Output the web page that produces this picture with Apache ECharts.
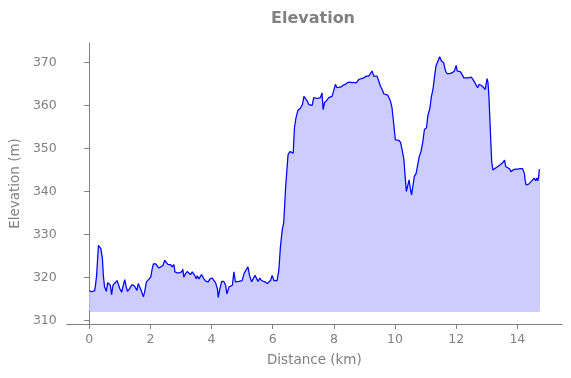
<!DOCTYPE html>
<html>
<head>
<meta charset="utf-8">
<script src="https://cdn.jsdelivr.net/npm/echarts@6/dist/echarts.min.js"></script>
<style>
    html, body { margin: 0; padding: 0; background: #fff; }
    #chart { width: 571px; height: 378px; }
</style>
</head>
<body>
<div id="chart"></div>
<script>
// distance along the route (km) and elevation (m)
var distKm = [
    0.00, 0.09, 0.13, 0.18, 0.21, 0.24, 0.30, 0.34, 0.38, 0.43, 0.46, 0.50, 0.56, 0.60, 0.645, 0.69,
    0.73, 0.775, 0.84, 0.91, 0.95, 1.00, 1.06, 1.10, 1.16, 1.21, 1.25, 1.32, 1.39, 1.46, 1.52, 1.56,
    1.60, 1.66, 1.70, 1.77, 1.81, 1.87, 1.93, 2.01, 2.06, 2.10, 2.17, 2.22, 2.28, 2.34, 2.41, 2.47,
    2.52, 2.58, 2.66, 2.71, 2.77, 2.80, 2.88, 2.95, 3.02, 3.06, 3.09, 3.15, 3.20, 3.26, 3.31, 3.37,
    3.43, 3.50, 3.53, 3.59, 3.67, 3.75, 3.82, 3.89, 3.95, 4.02, 4.08, 4.13, 4.19, 4.22, 4.26, 4.33,
    4.40, 4.46, 4.50, 4.57, 4.62, 4.68, 4.73, 4.78, 4.84, 4.89, 4.95, 5.00, 5.06, 5.11, 5.19, 5.24,
    5.31, 5.36, 5.42, 5.47, 5.52, 5.58, 5.63, 5.69, 5.74, 5.82, 5.87, 5.93, 5.98, 6.04, 6.09, 6.14,
    6.20, 6.25, 6.31, 6.36, 6.42, 6.50, 6.56, 6.61, 6.67, 6.71, 6.76, 6.82, 6.91, 6.97, 7.02, 7.07,
    7.13, 7.18, 7.23, 7.29, 7.34, 7.40, 7.45, 7.50, 7.56, 7.61, 7.65, 7.69, 7.76, 7.83, 7.89, 7.94,
    7.99, 8.05, 8.10, 8.16, 8.23, 8.30, 8.38, 8.45, 8.52, 8.59, 8.65, 8.74, 8.81, 8.89, 8.98, 9.06,
    9.14, 9.20, 9.25, 9.30, 9.36, 9.41, 9.47, 9.52, 9.58, 9.63, 9.68, 9.76, 9.80, 9.85, 9.90, 9.96,
    10.01, 10.07, 10.12, 10.18, 10.23, 10.29, 10.33, 10.37, 10.42, 10.46, 10.50, 10.54, 10.58, 10.63, 10.69, 10.74,
    10.79, 10.85, 10.91, 10.96, 11.03, 11.07, 11.14, 11.19, 11.24, 11.30, 11.34, 11.40, 11.46, 11.52, 11.59, 11.65,
    11.70, 11.79, 11.87, 11.94, 12.00, 12.03, 12.08, 12.14, 12.19, 12.25, 12.33, 12.41, 12.49, 12.55, 12.60, 12.66,
    12.70, 12.75, 12.79, 12.85, 12.90, 12.95, 13.01, 13.04, 13.07, 13.12, 13.16, 13.20, 13.28, 13.36, 13.44, 13.51,
    13.58, 13.62, 13.68, 13.75, 13.79, 13.86, 13.93, 14.01, 14.10, 14.17, 14.23, 14.26, 14.29, 14.37, 14.45, 14.51,
    14.55, 14.60, 14.64, 14.67, 14.70, 14.72
];
var elevM = [
    316.9, 316.7, 316.6, 317.0, 318.6, 320.5, 327.5, 327.7, 326.7, 324.4, 320.5, 317.8, 316.8, 318.8, 319.0, 318.2,
    316.0, 318.2, 318.6, 319.3, 319.6, 317.4, 316.6, 317.8, 319.5, 317.8, 316.8, 317.4, 318.3, 318.2, 318.6, 317.0,
    318.6, 318.3, 317.0, 315.5, 316.6, 319.0, 319.3, 320.1, 322.1, 323.2, 323.2, 322.8, 322.2, 322.1, 322.8, 324.0,
    323.5, 323.0, 323.0, 322.5, 323.0, 321.3, 321.1, 321.1, 321.3, 321.9, 320.1, 320.9, 321.4, 321.1, 320.7, 321.3,
    320.7, 319.7, 320.4, 319.7, 320.7, 319.7, 319.1, 319.0, 319.7, 319.9, 319.3, 318.8, 317.4, 315.4, 317.0, 319.1,
    319.1, 318.2, 316.2, 317.8, 317.8, 318.2, 321.3, 319.0, 318.6, 319.1, 318.8, 319.3, 320.9, 321.3, 322.5, 320.5,
    319.0, 319.7, 320.5, 320.7, 319.1, 319.9, 319.3, 319.7, 319.0, 318.6, 319.0, 319.3, 320.5, 319.3, 319.1, 319.3,
    321.7, 327.0, 331.0, 332.8, 340.8, 348.5, 349.3, 349.7, 348.9, 354.8, 357.1, 358.8, 359.4, 360.2, 362.1, 362.1,
    361.0, 360.2, 360.4, 360.0, 361.8, 361.9, 361.6, 361.9, 361.8, 362.9, 359.0, 360.6, 361.1, 361.8, 361.4, 362.1,
    363.3, 364.9, 364.1, 364.0, 364.3, 364.7, 364.9, 365.3, 365.4, 365.3, 365.5, 365.3, 366.0, 366.2, 366.4, 366.8,
    366.8, 367.0, 368.0, 366.8, 366.6, 366.8, 365.6, 364.5, 363.7, 362.7, 362.4, 362.4, 362.1, 361.0, 359.5, 355.5,
    352.0, 351.7, 351.9, 351.4, 349.7, 347.4, 343.5, 340.0, 339.6, 342.7, 340.7, 339.2, 341.1, 343.5, 344.2, 344.6,
    348.1, 349.3, 351.6, 354.4, 354.8, 357.5, 359.4, 362.1, 363.7, 367.2, 369.2, 369.5, 371.3, 370.3, 369.9, 368.0,
    367.4, 367.4, 367.6, 368.0, 369.3, 368.0, 368.0, 367.8, 367.2, 366.4, 366.4, 366.4, 366.6, 366.0, 365.4, 365.3,
    364.1, 364.9, 365.3, 364.5, 364.9, 363.7, 366.2, 365.3, 362.1, 353.6, 347.0, 345.0, 345.4, 345.8, 346.2, 346.6,
    347.3, 345.8, 345.6, 345.2, 344.6, 345.0, 345.2, 345.2, 345.3, 345.3, 344.2, 342.3, 341.5, 341.7, 342.3, 342.7,
    343.1, 342.5, 343.1, 342.5, 343.6, 345.2
];
var fillBase = 312.2;   // bottom of the shaded area
var xTicks = [0, 2, 4, 6, 8, 10, 12, 14];
var yTicks = [310, 320, 330, 340, 350, 360, 370];

var grey = '#808080';
var font = 'DejaVu Sans';

var points = [];
for (var i = 0; i < distKm.length; i++) {
    points.push([distKm[i], elevM[i]]);
}
var xFirst = distKm[0];
var xLast = distKm[distKm.length - 1];

var chart = echarts.init(document.getElementById('chart'), null, { renderer: 'canvas' });

chart.setOption({
    animation: false,
    backgroundColor: '#fff',
    title: {
        text: 'Elevation',
        left: 271,
        top: 11,
        padding: 0,
        textStyle: {
            color: grey,
            fontFamily: font,
            fontWeight: 'bold',
            fontSize: 16
        }
    },
    grid: {
        left: 66,
        right: 9,
        top: 43,
        bottom: 54,
        containLabel: false
    },
    xAxis: {
        type: 'value',
        min: -0.736,
        max: 15.46,
        name: 'Distance (km)',
        nameLocation: 'middle',
        nameGap: 29,
        nameTextStyle: { color: grey, fontFamily: font, fontSize: 13.5 },
        axisLine: { lineStyle: { color: grey, width: 1 } },
        axisTick: {
            show: true,
            length: 5,
            inside: false,
            customValues: xTicks,
            lineStyle: { color: grey }
        },
        axisLabel: {
            customValues: xTicks,
            margin: 9,
            color: grey,
            fontFamily: font,
            fontSize: 12.5
        },
        splitLine: { show: false }
    },
    yAxis: {
        type: 'value',
        min: 309.2,
        max: 374.5,
        name: 'Elevation (m)',
        nameLocation: 'middle',
        nameGap: 40,
        nameTextStyle: { color: grey, fontFamily: font, fontSize: 13.5 },
        axisLine: { show: true, lineStyle: { color: grey, width: 1 } },
        axisTick: {
            show: true,
            length: 5,
            inside: false,
            customValues: yTicks,
            lineStyle: { color: grey }
        },
        axisLabel: {
            customValues: yTicks,
            margin: 10,
            color: grey,
            fontFamily: font,
            fontSize: 12.5
        },
        splitLine: { show: false }
    },
    series: [{
        type: 'line',
        data: points,
        showSymbol: false,
        symbol: 'none',
        z: 3,
        lineStyle: { color: '#0000ff', width: 1.25 },
        areaStyle: {
            color: 'rgb(204, 204, 255)',
            opacity: 1,
            origin: fillBase
        },
        // faint outline of the filled polygon (bottom and sides)
        markLine: {
            silent: true,
            symbol: 'none',
            z: 2,
            label: { show: false },
            lineStyle: { color: 'rgba(0, 0, 255, 0.2)', width: 1, type: 'solid' },
            data: [
                [{ coord: [xFirst, fillBase] }, { coord: [xLast, fillBase] }],
                [{ coord: [xLast, fillBase] }, { coord: [xLast, elevM[elevM.length - 1]] }],
                [{ coord: [xFirst, fillBase] }, { coord: [xFirst, elevM[0]] }]
            ]
        }
    }]
});
</script>
</body>
</html>
